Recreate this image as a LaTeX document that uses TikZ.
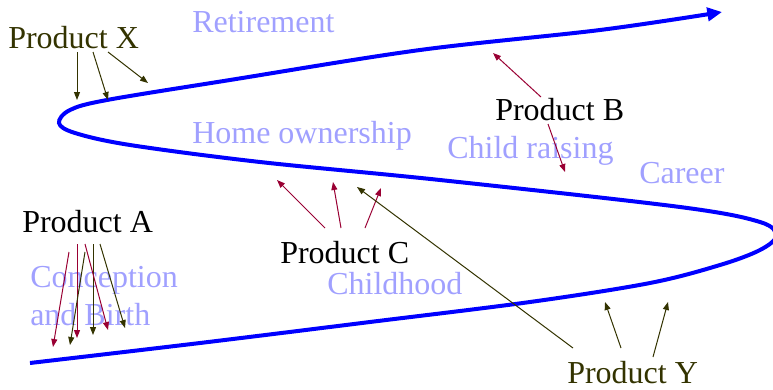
\documentclass[tikz,border=0pt]{standalone}
\usepackage{fontspec}
\setmainfont{Liberation Serif}
\usetikzlibrary{arrows.meta}
\definecolor{olive}{RGB}{51,51,0}
\definecolor{wine}{RGB}{153,0,51}
\definecolor{stage}{RGB}{160,160,255}
\tikzset{
  prod/.style={font=\fontsize{24}{28}\selectfont, anchor=base west, inner sep=0pt},
  stagetxt/.style={prod, text=stage},
  lifeline/.style={blue, line width=3pt, -{Triangle[length=11pt,width=10pt]}},
  redarr/.style={wine, line width=0.75pt, -{Triangle[length=6pt,width=4.5pt]}},
  olvarr/.style={olive, line width=0.75pt, -{Triangle[length=6pt,width=4.5pt]}}
}
\begin{document}
\begin{tikzpicture}[x=0.75pt,y=-0.75pt]
\useasboundingbox (0,0) rectangle (773,389);
% etapes de la vie
\node[stagetxt] (retire) at (192,32) {Retirement};
\node[stagetxt] (home) at (192,143) {Home ownership};
\node[stagetxt] (child) at (447,158) {Child raising};
\node[stagetxt] (career) at (639,183) {Career};
\node[stagetxt] (hood) at (327,294) {Childhood};
\node[stagetxt] (concep) at (30,287) {Conception};
\node[stagetxt] (birth) at (30,325) {and Birth};
% la courbe
\draw[lifeline] plot[smooth, tension=0.55] coordinates {(30,363) (200,343) (370,322) (530,302) (650,283) (720,265) (760,250) (776,236) (760,222) (680,207) (440,180) (260,162) (130,145) (75,133) (59,123) (70,110) (107,100) (230,80) (420,50) (600,30) (722,12)};
% produits
\node[prod, text=olive] (px) at (8,48) {Product X};
\node[prod] (pa) at (22,232) {Product A};
\node[prod] (pc) at (280,263) {Product C};
\node[prod] (pb) at (495,120) {Product B};
\node[prod, text=olive] (py) at (567,383) {Product Y};
% points sur la courbe
\coordinate (x1) at (77,100);
\coordinate (x2) at (108,100);
\coordinate (x3) at (148,83);
\coordinate (a1) at (53,347);
\coordinate (a2) at (77,338);
\coordinate (a3) at (70,345);
\coordinate (a4) at (93,335);
\coordinate (a5) at (108,330);
\coordinate (a6) at (125,328);
\coordinate (c1) at (277,180);
\coordinate (c2) at (333,182);
\coordinate (c3) at (381,188);
\coordinate (b1) at (493,53);
\coordinate (b2) at (565,172);
\coordinate (y1) at (357,187);
\coordinate (y2) at (605,302);
\coordinate (y3) at (668,302);
% fleches
\draw[olvarr] ([shift={(69,4)}]px.base west) -- (x1);
\draw[olvarr] ([shift={(85,4)}]px.base west) -- (x2);
\draw[olvarr] ([shift={(100,4)}]px.base west) -- (x3);
\draw[redarr] ([shift={(47,20)}]pa.base west) -- (a1);
\draw[redarr] ([shift={(55,12)}]pa.base west) -- (a2);
\draw[olvarr] ([shift={(63,20)}]pa.base west) -- (a3);
\draw[olvarr] ([shift={(71,12)}]pa.base west) -- (a4);
\draw[redarr] ([shift={(63,12)}]pa.base west) -- (a5);
\draw[olvarr] ([shift={(78,12)}]pa.base west) -- (a6);
\draw[redarr] ([shift={(45,-35)}]pc.base west) -- (c1);
\draw[redarr] ([shift={(61,-35)}]pc.base west) -- (c2);
\draw[redarr] ([shift={(85,-35)}]pc.base west) -- (c3);
\draw[redarr] ([shift={(46,-23)}]pb.base west) -- (b1);
\draw[redarr] ([shift={(53,4)}]pb.base west) -- (b2);
\draw[olvarr] ([shift={(6,-35)}]py.base west) -- (y1);
\draw[olvarr] ([shift={(54,-35)}]py.base west) -- (y2);
\draw[olvarr] ([shift={(86,-26)}]py.base west) -- (y3);
\end{tikzpicture}
\end{document}
